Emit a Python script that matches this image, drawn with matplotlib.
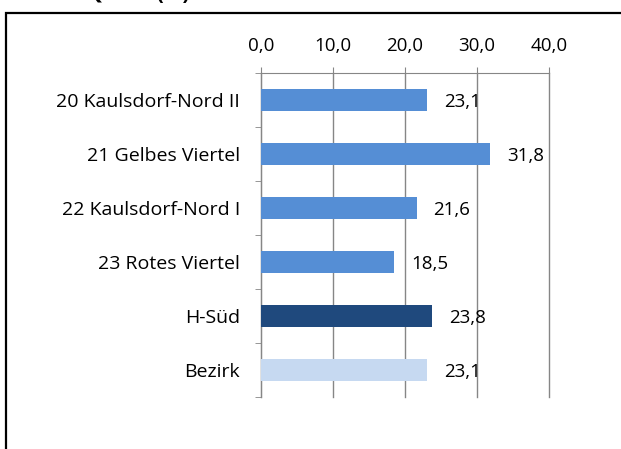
import matplotlib
matplotlib.use('Agg')
import matplotlib.pyplot as plt
from matplotlib.patches import Rectangle

plt.rcParams['font.family'] = ['Open Sans', 'DejaVu Sans']

# Data
categories = ['20 Kaulsdorf-Nord II', '21 Gelbes Viertel', '22 Kaulsdorf-Nord I',
              '23 Rotes Viertel', 'H-Süd', 'Bezirk']
values = [23.1, 31.8, 21.6, 18.5, 23.8, 23.1]
bar_colors = ['#558ED5', '#558ED5', '#558ED5', '#558ED5', '#1F497D', '#C6D9F1']
xticks = [0, 10, 20, 30, 40]

W, H = 621, 449
fig = plt.figure(figsize=(W / 100, H / 100), dpi=100)

# outer frame, clipped at right and bottom
fig.patches.append(Rectangle((6 / W, -0.1), 1.2, 1 - 13 / H + 0.1, transform=fig.transFigure,
                             fill=False, edgecolor='black', linewidth=1.6))
# partly cut-off title at the very top
fig.text(20 / W, 1 + 1 / H, 'SGB II-Quote (%)', fontsize=15, fontweight='bold',
         ha='left', va='baseline')

ax = fig.add_axes([261 / W, 1 - 397 / H, (549 - 261) / W, (397 - 73) / H])
y = list(range(len(categories)))
ax.barh(y, values, height=0.41, color=bar_colors, zorder=3)
for yi, v in zip(y, values):
    ax.annotate(f'{v:.1f}'.replace('.', ','), (v, yi), xytext=(17, -2),
                textcoords='offset pixels', ha='left', va='center', fontsize=13.5)

ax.set_xlim(0, 40)
ax.set_ylim(len(categories) - 0.5, -0.5)
ax.xaxis.tick_top()
ax.set_xticks(xticks)
ax.set_xticklabels([f'{t:.1f}'.replace('.', ',') for t in xticks], fontsize=13.5)
ax.tick_params(axis='x', which='major', length=4, color='#868686', pad=9)
ax.set_yticks(y)
ax.set_yticklabels(categories, fontsize=14)
ax.tick_params(axis='y', which='major', length=0, pad=15)
ax.set_yticks([i - 0.5 for i in range(len(categories) + 1)], minor=True)
ax.tick_params(axis='y', which='minor', length=4, color='#868686')
ax.grid(axis='x', color='#868686', linewidth=1, zorder=0)
for gl in ax.get_xgridlines():
    gl.set_clip_on(False)
for s in ['right', 'bottom']:
    ax.spines[s].set_visible(False)
for s in ['top', 'left']:
    ax.spines[s].set_color('#868686')

fig.savefig('out.png', dpi=100)
